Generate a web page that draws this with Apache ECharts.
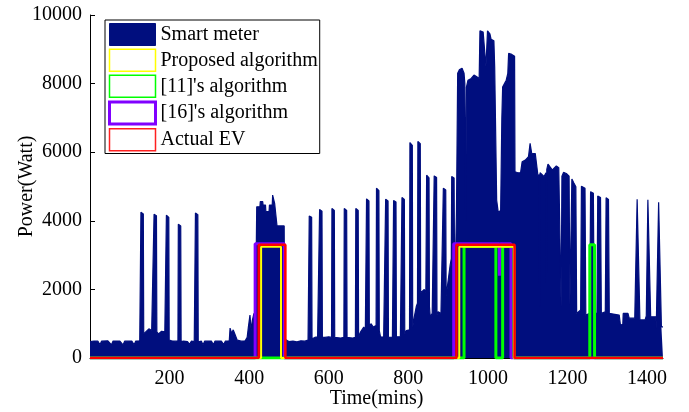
<!DOCTYPE html>
<html>
<head>
<meta charset="utf-8">
<script src="https://cdn.jsdelivr.net/npm/echarts@6/dist/echarts.min.js"></script>
<style>
  html, body { margin: 0; padding: 0; background: #fff; }
  #chart { width: 689px; height: 412px; }
</style>
</head>
<body>
<div id="chart"></div>
<script>
// Household smart-meter load over one day, [minute, watts]
const meterSamples = [
  [0,480],[10,495],[20,490],[25,385],[29,490],[45,500],[50,490],[54,385],[58,495],[75,495],[80,490],[83,380],[87,490],[105,495],[108,490],[111,385],[115,495],[125,500],
  [127,520],[128,4250],[134,4200],[135,700],[140,760],[148,850],[155,800],[159,820],
  [160,820],[161,4190],[167,4150],[168,760],[172,700],[180,780],[188,760],
  [191,750],[192,4160],[198,4100],[199,520],[205,500],[215,490],[219,500],
  [221,500],[222,3900],[228,3850],[229,480],[235,490],[245,480],[250,400],[255,490],[262,480],
  [264,480],[265,4230],[271,4180],[272,470],[280,490],[284,380],[288,490],[305,495],[310,385],[314,490],[330,495],[336,390],[340,490],
  [350,500],[352,870],[356,720],[360,820],[364,700],[370,520],[380,490],[390,500],
  [395,600],[398,900],[402,1250],[405,800],[408,1100],[412,1300],[416,1200],
  [419,4410],[427,4410],[428,4560],[434,4560],[435,4460],[441,4460],[442,4270],[450,4270],[451,4460],[458,4460],[459,4750],[463,4750],[464,4510],[469,4510],[470,3850],[488,3850],[489,550],
  [500,480],[510,490],[520,470],[530,500],[540,490],[548,520],
  [550,520],[551,4140],[557,4100],[558,560],[565,600],[572,620],
  [576,600],[577,4330],[583,4280],[584,610],[590,600],[600,620],
  [607,600],[608,4360],[614,4300],[615,600],[620,610],[630,580],
  [638,600],[639,4360],[645,4300],[646,600],[650,620],[660,580],
  [667,600],[668,4360],[674,4300],[675,620],[680,760],[688,900],[692,820],
  [694,850],[695,4640],[701,4580],[702,900],[706,1000],[712,900],[716,950],
  [719,950],[720,4950],[726,4880],[727,800],[730,620],[738,610],
  [742,610],[743,4630],[749,4580],[750,600],[755,600],[760,610],
  [762,610],[763,4590],[769,4550],[770,620],[775,600],[780,620],
  [783,620],[784,4680],[790,4620],[791,700],[795,800],[800,820],
  [803,820],[804,6280],[810,6200],[811,900],[815,1200],[820,1500],
  [823,1600],[824,6310],[830,6250],[831,1900],[835,1950],[840,2000],[844,1900],
  [845,1900],[846,5330],[852,5250],[853,1500],[855,1200],[860,1300],
  [864,1350],[865,5310],[871,5260],[872,1250],[875,1350],[882,1300],
  [887,1250],[888,4950],[894,4900],[895,1800],[900,1800],[905,2700],
  [908,2900],[909,5290],[915,5250],[916,3000],[919,3100],
  [921,4300],[924,8300],[928,8400],[935,8450],[940,8300],[942,8000],[944,4000],[946,7900],[950,8100],[958,8150],[965,8250],[972,8200],[978,8150],
  [980,9540],[988,9500],[993,9480],[995,8500],[997,8490],[999,9540],[1005,9450],[1008,9290],[1015,9250],[1017,8490],[1020,8450],
  [1022,4600],[1026,4250],[1032,4300],[1035,7000],[1037,7900],[1046,8100],[1050,8300],[1052,8880],[1055,8930],[1060,8850],[1067,8800],[1068,5430],
  [1075,5400],[1082,5400],[1086,5720],[1094,5770],[1102,5870],[1106,6260],[1110,5970],[1119,5960],[1126,5290],[1129,5350],[1130,1500],[1131,5400],
  [1141,5290],[1146,5400],[1147,2200],[1148,5500],[1151,5650],[1162,5480],[1172,5600],[1178,5550],[1182,5500],[1184,1500],[1186,5300],
  [1190,5410],[1197,5380],[1204,5300],[1206,1545],[1209,1545],[1211,5220],[1216,5100],[1221,4990],[1223,1300],[1233,1400],
  [1235,5010],[1244,4950],[1246,1250],[1256,1300],[1258,4850],[1265,4800],[1267,1300],[1274,1300],
  [1276,4720],[1283,4680],[1285,1300],[1295,1350],[1297,4670],[1303,4620],[1305,1300],[1315,1280],[1330,1250],
  [1333,960],[1339,980],[1340,1300],[1352,1300],[1355,1160],[1369,1160],[1374,1150],[1375,4630],[1380,4580],[1382,1110],
  [1395,1110],[1398,1230],[1401,1230],[1402,4610],[1407,4570],[1409,1200],[1422,1200],[1423,865],[1428,865],
  [1429,4540],[1434,4500],[1436,910],[1440,910]
];

// Detected EV charging profiles (minute breakpoints and power in watts)
const proposedTime  = [0, 430, 430, 480, 480, 928, 928, 1065, 1065, 1440];
const proposedPower = [0, 0, 3240, 3240, 0, 0, 3240, 3240, 0, 0];

const ref11Time  = [0, 940, 940, 1020, 1020, 1037, 1037, 1066, 1066, 1256, 1256, 1268, 1268, 1440];
const ref11Power = [0, 0, 3250, 3250, 0, 0, 3250, 3250, 0, 0, 3300, 3300, 0, 0];

const ref16Time  = [0, 415, 415, 488, 488, 914, 914, 1029, 1029, 1031, 1031, 1058, 1058, 1440];
const ref16Power = [0, 0, 3330, 3330, 0, 0, 3330, 3330, 2400, 2400, 3330, 3330, 0, 0];

const actualTime  = [0, 424, 424, 491, 491, 921, 921, 1067, 1067, 1440];
const actualPower = [0, 0, 3300, 3300, 0, 0, 3300, 3300, 0, 0];

const xTicks = { min: 0, max: 1440, step: 200 };
const yTicks = { min: 0, max: 10000, step: 2000 };

const NAVY = '#000e7e';
const FONT = '"Liberation Serif", "Times New Roman", serif';

function pairs(t, p) { return t.map((v, i) => [v, p[i]]); }

function evSeries(name, t, p, color, width) {
  return {
    name, type: 'line', data: pairs(t, p),
    showSymbol: false, symbol: 'none', silent: true,
    lineStyle: { color, width },
    itemStyle: { color }
  };
}

const plain = v => String(v);

const chart = echarts.init(document.getElementById('chart'), null, { renderer: 'canvas' });
chart.setOption({
  animation: false,
  backgroundColor: '#fff',
  grid: { left: 90, right: 26, top: 15, bottom: 54, containLabel: false, outerBoundsMode: 'none' },
  legend: {
    orient: 'vertical', left: 105, top: 20,
    padding: [3, 2, 2, 3], itemGap: 2.5, itemWidth: 46, itemHeight: 22,
    borderColor: '#000', borderWidth: 1, backgroundColor: '#fff',
    textStyle: { fontFamily: FONT, fontSize: 20, color: '#000' },
    selectedMode: false,
    data: [
      { name: 'Smart meter', icon: 'rect', itemStyle: { color: NAVY, borderColor: NAVY, borderWidth: 1 } },
      { name: 'Proposed algorithm', icon: 'rect', itemStyle: { color: '#fff', borderColor: '#ffff00', borderWidth: 1.5 } },
      { name: "[11]'s algorithm", icon: 'rect', itemStyle: { color: '#fff', borderColor: '#00ff00', borderWidth: 1.5 } },
      { name: "[16]'s algorithm", icon: 'rect', itemStyle: { color: '#fff', borderColor: '#8000ff', borderWidth: 3 } },
      { name: 'Actual EV', icon: 'rect', itemStyle: { color: '#fff', borderColor: '#ff2020', borderWidth: 1.5 } }
    ]
  },
  xAxis: {
    type: 'value', min: xTicks.min, max: xTicks.max, interval: xTicks.step,
    name: 'Time(mins)', nameLocation: 'middle', nameGap: 31, nameMoveOverlap: false,
    nameTextStyle: { fontFamily: FONT, fontSize: 20, color: '#000' },
    axisLine: { show: true, onZero: false, lineStyle: { color: '#000', width: 1 } },
    axisTick: { show: true, inside: true, length: 5, lineStyle: { color: '#000', width: 1 } },
    axisLabel: { fontFamily: FONT, fontSize: 20, color: '#000', margin: 11, showMinLabel: false, showMaxLabel: false, formatter: plain },
    splitLine: { show: false }
  },
  yAxis: {
    type: 'value', min: yTicks.min, max: yTicks.max, interval: yTicks.step,
    name: 'Power(Watt)', nameLocation: 'middle', nameGap: 53, nameMoveOverlap: false,
    nameTextStyle: { fontFamily: FONT, fontSize: 20, color: '#000' },
    axisLine: { show: true, lineStyle: { color: '#000', width: 1 } },
    axisTick: { show: true, inside: true, length: 5, lineStyle: { color: '#000', width: 1 } },
    axisLabel: { fontFamily: FONT, fontSize: 20, color: '#000', margin: 8, formatter: plain },
    splitLine: { show: false }
  },
  series: [
    {
      name: 'Smart meter', type: 'line', data: meterSamples,
      showSymbol: false, symbol: 'none', silent: true,
      lineStyle: { color: NAVY, width: 1.2 },
      itemStyle: { color: NAVY },
      areaStyle: { color: NAVY, opacity: 1, origin: 'start' }
    },
    evSeries("[16]'s algorithm", ref16Time, ref16Power, '#8000ff', 3),
    evSeries("[11]'s algorithm", ref11Time, ref11Power, '#00ff00', 3),
    evSeries('Proposed algorithm', proposedTime, proposedPower, '#ffff00', 2),
    evSeries('Actual EV', actualTime, actualPower, '#ff0000', 2.5)
  ]
});
</script>
</body>
</html>
